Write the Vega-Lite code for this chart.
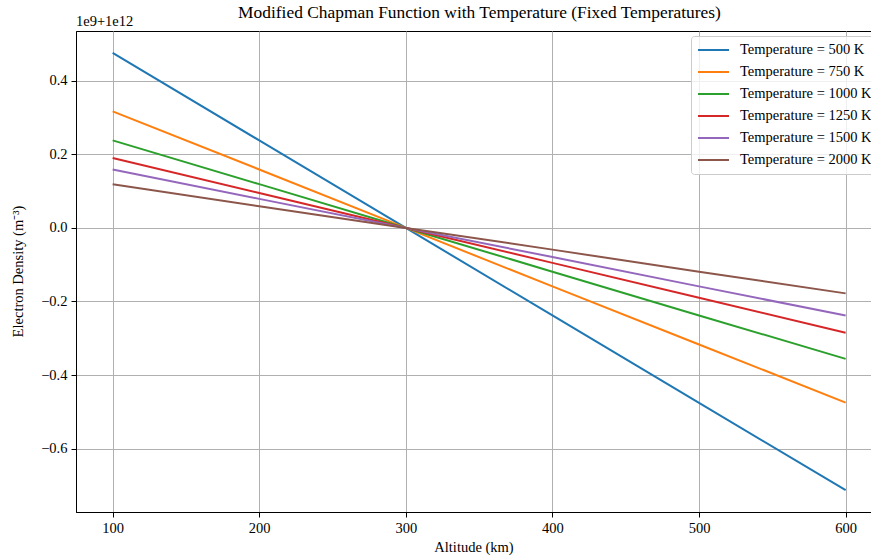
{
  "$schema": "https://vega.github.io/schema/vega-lite/v6.json",
  "width": 795,
  "height": 481,
  "autosize": {"type": "none"},
  "padding": {"left": 76, "top": 31, "right": 0, "bottom": 46},
  "background": "white",
  "config": {
    "font": "Liberation Serif",
    "view": {"stroke": "black", "strokeWidth": 1},
    "axis": {"labelFont": "Liberation Serif", "titleFont": "Liberation Serif", "labelFontSize": 14.5, "titleFontSize": 14.5, "titleFontWeight": "normal", "labelColor": "black", "titleColor": "black", "domainColor": "black", "tickColor": "black", "tickSize": 5, "gridColor": "#b0b0b0", "gridWidth": 1, "labelPadding": 4}
  },
  "title": {"text": "Modified Chapman Function with Temperature (Fixed Temperatures)", "font": "Liberation Serif", "fontSize": 17.4, "fontWeight": "normal", "color": "black", "anchor": "middle", "dx": 6, "dy": 13, "offset": 6},
  "layer": [
    {
      "data": {"values": [
        {"altitude": 100, "density": 0.476, "series": "Temperature = 500 K"},
        {"altitude": 200, "density": 0.238, "series": "Temperature = 500 K"},
        {"altitude": 300, "density": 0.0, "series": "Temperature = 500 K"},
        {"altitude": 400, "density": -0.238, "series": "Temperature = 500 K"},
        {"altitude": 500, "density": -0.476, "series": "Temperature = 500 K"},
        {"altitude": 600, "density": -0.713, "series": "Temperature = 500 K"},
        {"altitude": 100, "density": 0.317, "series": "Temperature = 750 K"},
        {"altitude": 200, "density": 0.159, "series": "Temperature = 750 K"},
        {"altitude": 300, "density": 0.0, "series": "Temperature = 750 K"},
        {"altitude": 400, "density": -0.159, "series": "Temperature = 750 K"},
        {"altitude": 500, "density": -0.317, "series": "Temperature = 750 K"},
        {"altitude": 600, "density": -0.475, "series": "Temperature = 750 K"},
        {"altitude": 100, "density": 0.238, "series": "Temperature = 1000 K"},
        {"altitude": 200, "density": 0.119, "series": "Temperature = 1000 K"},
        {"altitude": 300, "density": 0.0, "series": "Temperature = 1000 K"},
        {"altitude": 400, "density": -0.119, "series": "Temperature = 1000 K"},
        {"altitude": 500, "density": -0.238, "series": "Temperature = 1000 K"},
        {"altitude": 600, "density": -0.356, "series": "Temperature = 1000 K"},
        {"altitude": 100, "density": 0.190, "series": "Temperature = 1250 K"},
        {"altitude": 200, "density": 0.095, "series": "Temperature = 1250 K"},
        {"altitude": 300, "density": 0.0, "series": "Temperature = 1250 K"},
        {"altitude": 400, "density": -0.095, "series": "Temperature = 1250 K"},
        {"altitude": 500, "density": -0.190, "series": "Temperature = 1250 K"},
        {"altitude": 600, "density": -0.285, "series": "Temperature = 1250 K"},
        {"altitude": 100, "density": 0.159, "series": "Temperature = 1500 K"},
        {"altitude": 200, "density": 0.079, "series": "Temperature = 1500 K"},
        {"altitude": 300, "density": 0.0, "series": "Temperature = 1500 K"},
        {"altitude": 400, "density": -0.079, "series": "Temperature = 1500 K"},
        {"altitude": 500, "density": -0.159, "series": "Temperature = 1500 K"},
        {"altitude": 600, "density": -0.238, "series": "Temperature = 1500 K"},
        {"altitude": 100, "density": 0.119, "series": "Temperature = 2000 K"},
        {"altitude": 200, "density": 0.059, "series": "Temperature = 2000 K"},
        {"altitude": 300, "density": 0.0, "series": "Temperature = 2000 K"},
        {"altitude": 400, "density": -0.059, "series": "Temperature = 2000 K"},
        {"altitude": 500, "density": -0.119, "series": "Temperature = 2000 K"},
        {"altitude": 600, "density": -0.178, "series": "Temperature = 2000 K"}
      ]},
      "mark": {"type": "line", "strokeWidth": 2},
      "encoding": {
        "x": {"field": "altitude", "type": "quantitative", "scale": {"domain": [75, 617.3], "nice": false, "zero": false},
          "axis": {"values": [100, 200, 300, 400, 500, 600], "format": "d", "title": "Altitude (km)", "titlePadding": 6}},
        "y": {"field": "density", "type": "quantitative", "scale": {"domain": [-0.7725, 0.5355], "nice": false, "zero": false},
          "axis": {"values": [-0.6, -0.4, -0.2, 0.0, 0.2, 0.4], "format": ".1f", "title": "Electron Density (m⁻³)", "titleAngle": -90, "titleX": -58, "titleY": 240, "titleAlign": "center", "titleBaseline": "middle"}},
        "color": {"field": "series", "type": "nominal",
          "sort": ["Temperature = 500 K", "Temperature = 750 K", "Temperature = 1000 K", "Temperature = 1250 K", "Temperature = 1500 K", "Temperature = 2000 K"],
          "scale": {"range": ["#1f77b4", "#ff7f0e", "#2ca02c", "#d62728", "#9467bd", "#8c564b"]},
          "legend": {"title": null, "orient": "none", "legendX": 615, "legendY": 5, "symbolType": "stroke", "symbolSize": 961, "symbolStrokeWidth": 2, "clipHeight": 16, "rowPadding": 6, "labelFont": "Liberation Serif", "labelFontSize": 14.5, "labelColor": "black", "labelOffset": 10, "padding": 6, "fillColor": "rgba(255,255,255,0.8)", "strokeColor": "#cccccc", "cornerRadius": 3, "labelLimit": 300}}
      }
    },
    {
      "data": {"values": [{"label": "1e9+1e12"}]},
      "mark": {"type": "text", "align": "left", "baseline": "alphabetic", "dy": -5, "fontSize": 14.5, "font": "Liberation Serif", "color": "black", "clip": false},
      "encoding": {
        "x": {"datum": 75, "type": "quantitative"},
        "y": {"datum": 0.5355, "type": "quantitative"},
        "text": {"field": "label"}
      }
    }
  ]
}
